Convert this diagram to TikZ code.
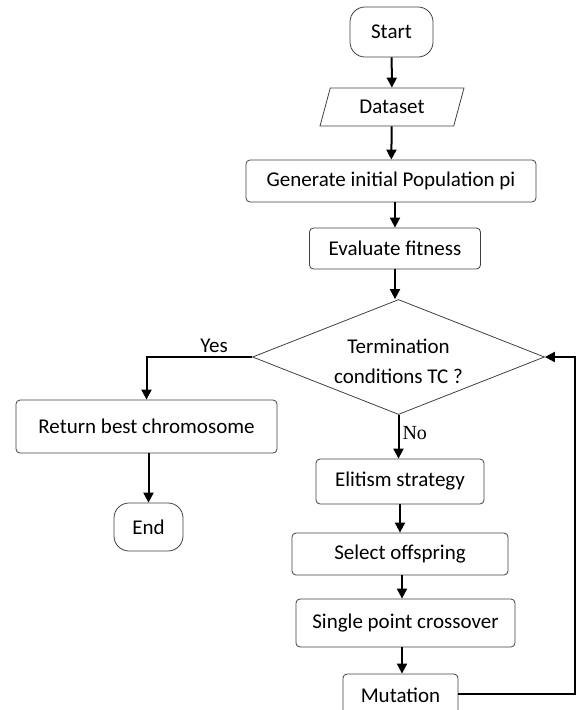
\documentclass[tikz,border=0pt]{standalone}
\usepackage{fontspec}
\setmainfont{Carlito}
\newfontfamily\nofont{Liberation Serif}
\usetikzlibrary{arrows.meta,positioning,shapes.geometric}

\tikzset{
  box/.style={draw=black!75, line width=0.8pt, rounded corners=4pt, inner sep=0pt,
    align=center, font=\fontsize{21}{29}\selectfont},
  term/.style={box, rounded corners=15pt},
  link/.style={-{Triangle[length=10pt,width=10pt]}, line width=2pt}
}

\begin{document}
\begin{tikzpicture}[x=1pt,y=-1pt]
\useasboundingbox (0,0) rectangle (576,710);
\clip (0,0) rectangle (576,710);
% nodes
\node[term, minimum width=83pt, minimum height=50pt] (start) at (391.5,32) {Start};
\node[box, rounded corners=0pt, trapezium, trapezium left angle=53, trapezium right angle=127,
  minimum width=144pt, minimum height=38pt, trapezium stretches body] (data) at (392,107) {Dataset};
\node[box, minimum width=290pt, minimum height=42pt] (init) at (391,181) {Generate initial Population pi};
\node[box, minimum width=171pt, minimum height=41pt] (eval) at (395,248.5) {Evaluate fitness};
\node[box, rounded corners=0pt, diamond, aspect=2.6, minimum width=292pt, minimum height=115pt] (tc) at (398.5,357) {};
\node[font=\fontsize{21}{29}\selectfont, inner sep=0pt] (tctext) at ([yshift=-4.5pt]tc.center)
  {\shortstack{Termination\\[12pt]conditions TC ?}};
\node[box, minimum width=261pt, minimum height=53pt] (ret) at (146.5,426.5) {Return best chromosome};
\node[term, minimum width=69pt, minimum height=48pt] (fin) at (148.5,527) {End};
\node[box, minimum width=168pt, minimum height=45pt] (elit) at (400,481.5) {Elitism strategy};
\node[box, minimum width=216pt, minimum height=42pt] (sel) at (400,554) {Select offspring};
\node[box, minimum width=219pt, minimum height=48pt] (cross) at (405.5,623) {Single point crossover};
\node[box, minimum width=115pt, minimum height=42pt] (mut) at (400.5,695) {Mutation};
\coordinate (back) at (575,694);
% links
\draw[link] (start) -- (data);
\draw[link] (data) -- (init);
\draw[link] (init.south -| eval) -- (eval);
\draw[link] (eval) -- (eval |- tc.north);
\draw[link] (tc.west) -| node[pos=0.18, above, font=\fontsize{21}{24}\selectfont] {Yes} (ret.north);
\draw[link] (ret.south -| fin) -- (fin);
\draw[link] (tc.south) -- node[pos=0.42, right, inner sep=3pt, font=\nofont\fontsize{20}{24}\selectfont] {No} (elit.north -| tc.south);
\draw[link] (elit) -- (sel);
\draw[link] (sel.south -| 402,0) -- (cross.north -| 402,0);
\draw[link] (cross.south -| 402,0) -- (mut.north -| 402,0);
\draw[link] (mut.east |- back) -- (back) |- (tc.east);
\end{tikzpicture}
\end{document}
